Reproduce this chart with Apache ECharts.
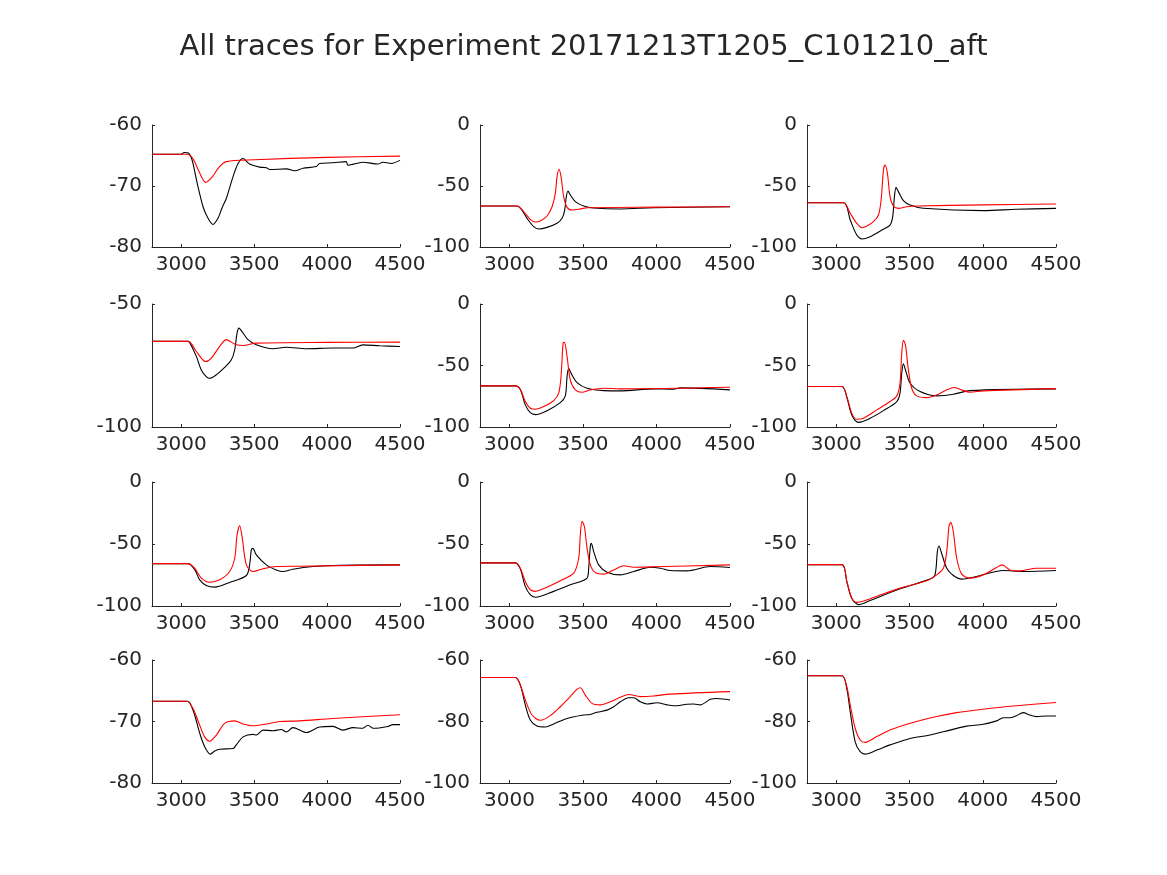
<!DOCTYPE html>
<html>
<head>
<meta charset="utf-8">
<script src="https://cdn.jsdelivr.net/npm/echarts@6/dist/echarts.min.js"></script>
<style>html,body{margin:0;padding:0;background:#fff}#c{width:1167px;height:875px}</style>
</head>
<body>
<div id="c"></div>
<script>
const titleText = 'All traces for Experiment 20171213T1205_C101210_aft';
const xTicks = [3000, 3500, 4000, 4500];
const yMins = [-80, -100, -100, -100, -100, -100, -100, -100, -100, -80, -100, -100];
const yMaxs = [-60, 0, 0, -50, 0, 0, 0, 0, 0, -60, -60, -60];
const yIntervals = [10, 50, 50, 50, 50, 50, 50, 50, 50, 10, 20, 20];

const t1Black = [[2800,-64.8],[3000,-64.8],[3020,-64.5],[3050,-64.6],[3070,-65.4],[3081,-66.3],[3115,-70.1],[3150,-73.4],[3184,-75.3],[3218,-76.3],[3252,-75.3],[3280,-73.6],[3310,-72.0],[3355,-68.5],[3390,-66.3],[3424,-65.5],[3469,-66.4],[3538,-66.9],[3584,-67.0],[3607,-67.3],[3721,-67.2],[3778,-67.5],[3835,-67.1],[3926,-66.8],[3949,-66.3],[4040,-66.2],[4131,-66.0],[4143,-66.6],[4245,-66.1],[4349,-66.4],[4383,-66.1],[4440,-66.3],[4500,-65.8]];
const t1Red = [[2800,-64.8],[3040,-64.8],[3080,-65.5],[3120,-67.5],[3168,-69.4],[3210,-68.6],[3260,-66.9],[3310,-66.0],[3500,-65.7],[4000,-65.3],[4500,-65.1]];

const t2Black = [[2800,-66.4],[3052,-66.4],[3080,-69.0],[3120,-76.5],[3165,-83.3],[3199,-85.2],[3256,-83.9],[3324,-80.6],[3358,-76.5],[3376,-69.7],[3387,-58.7],[3398,-54.1],[3414,-57.4],[3448,-62.8],[3505,-66.4],[3573,-68.0],[3754,-68.8],[3981,-67.8],[4500,-67.0]];
const t2Red = [[2800,-66.4],[3052,-66.4],[3097,-71.0],[3142,-77.3],[3176,-79.5],[3210,-78.7],[3256,-74.6],[3290,-67.0],[3312,-56.0],[3324,-42.3],[3337,-36.3],[3351,-42.3],[3369,-58.7],[3392,-67.5],[3426,-69.7],[3471,-69.1],[3528,-67.8],[4000,-67.3],[4500,-67.0]];

const t3Black = [[2800,-63.7],[3050,-63.7],[3095,-77.9],[3140,-90.2],[3175,-93.4],[3231,-91.5],[3311,-86.1],[3367,-82.0],[3385,-75.1],[3397,-58.7],[3408,-51.1],[3424,-54.6],[3458,-62.0],[3504,-65.6],[3594,-68.3],[4003,-70.2],[4230,-69.1],[4500,-68.3]];
const t3Red = [[2800,-63.7],[3050,-63.7],[3095,-72.4],[3140,-80.6],[3175,-84.2],[3209,-82.8],[3254,-79.2],[3288,-73.8],[3306,-61.5],[3322,-36.9],[3333,-32.8],[3349,-39.6],[3367,-58.7],[3390,-66.4],[3424,-68.3],[3481,-67.0],[3549,-66.4],[4000,-65.5],[4500,-64.8]];

const t4Black = [[2800,-65.2],[3047,-65.2],[3058,-65.6],[3104,-71.3],[3138,-76.8],[3172,-79.5],[3195,-80.2],[3241,-78.8],[3298,-75.8],[3344,-72.7],[3367,-68.6],[3383,-61.8],[3396,-59.8],[3424,-61.8],[3458,-64.5],[3515,-66.6],[3629,-68.2],[3721,-67.6],[3858,-68.2],[4040,-67.9],[4178,-67.9],[4245,-66.6],[4361,-67.0],[4500,-67.3]];
const t4Red = [[2800,-65.2],[3047,-65.2],[3104,-69.3],[3138,-72.0],[3168,-73.4],[3207,-72.0],[3264,-67.2],[3310,-64.5],[3344,-65.5],[3378,-66.6],[3424,-66.9],[3515,-65.9],[4000,-65.6],[4500,-65.5]];

const t5Black = [[2800,-66.6],[3040,-66.6],[3074,-69.5],[3108,-82.0],[3142,-88.3],[3176,-89.9],[3256,-86.7],[3346,-80.2],[3380,-74.7],[3392,-59.0],[3403,-52.2],[3419,-56.2],[3460,-63.9],[3528,-68.5],[3641,-70.4],[3754,-70.6],[3981,-69.0],[4117,-69.3],[4162,-68.2],[4500,-69.8]];
const t5Red = [[2800,-66.6],[3040,-66.6],[3074,-69.3],[3108,-79.3],[3142,-84.8],[3176,-85.6],[3233,-83.4],[3301,-78.5],[3335,-72.5],[3351,-59.0],[3365,-31.8],[3374,-31.2],[3392,-42.6],[3414,-61.7],[3448,-69.8],[3494,-71.7],[3550,-69.8],[3641,-68.5],[3754,-69.0],[4500,-67.7]];

const t6Black = [[2800,-67.1],[3038,-67.1],[3072,-76.0],[3106,-90.2],[3152,-96.2],[3231,-92.9],[3322,-86.7],[3413,-79.3],[3435,-72.5],[3447,-56.2],[3458,-48.6],[3472,-53.5],[3504,-64.4],[3572,-71.2],[3685,-74.7],[3799,-73.4],[3912,-70.4],[4500,-69.0]];
const t6Red = [[2800,-67.1],[3038,-67.1],[3072,-75.3],[3106,-88.9],[3140,-93.7],[3186,-92.9],[3277,-86.1],[3367,-79.3],[3413,-74.7],[3435,-64.4],[3447,-39.9],[3458,-29.6],[3472,-33.2],[3492,-53.5],[3515,-68.5],[3549,-74.7],[3617,-76.1],[3685,-73.9],[3754,-69.8],[3803,-67.9],[3844,-69.3],[3912,-71.7],[4003,-70.6],[4500,-68.8]];

const t7Black = [[2800,-65.8],[3047,-65.8],[3092,-70.5],[3127,-78.9],[3172,-83.4],[3230,-84.8],[3332,-81.0],[3447,-75.4],[3469,-66.8],[3481,-54.8],[3492,-53.5],[3515,-58.8],[3584,-66.8],[3652,-70.9],[3698,-72.2],[3766,-70.3],[3904,-68.2],[4087,-67.1],[4500,-66.8]];
const t7Red = [[2800,-65.8],[3047,-65.8],[3092,-69.5],[3138,-77.5],[3195,-80.8],[3264,-78.9],[3332,-72.2],[3367,-61.5],[3383,-42.8],[3401,-35.3],[3419,-45.5],[3447,-66.8],[3492,-72.2],[3561,-70.0],[3652,-68.2],[3812,-67.9],[4500,-66.8]];

const t8Black = [[2800,-65.2],[3040,-65.2],[3074,-70.0],[3108,-84.2],[3142,-90.9],[3176,-93.0],[3301,-88.2],[3414,-82.9],[3528,-77.5],[3539,-69.5],[3550,-52.1],[3557,-49.5],[3573,-56.1],[3607,-66.8],[3664,-72.7],[3754,-74.9],[3845,-72.2],[3958,-68.7],[4026,-69.5],[4094,-71.4],[4207,-71.7],[4366,-68.2],[4500,-69.0]];
const t8Red = [[2800,-65.2],[3040,-65.2],[3074,-69.5],[3108,-80.2],[3142,-86.9],[3176,-88.2],[3256,-84.8],[3346,-79.7],[3437,-73.5],[3471,-61.5],[3482,-42.8],[3494,-31.6],[3510,-36.1],[3528,-53.5],[3550,-66.8],[3584,-73.0],[3641,-74.3],[3709,-70.9],[3777,-67.6],[3845,-68.7],[3981,-68.4],[4500,-66.8]];

const t9Black = [[2800,-66.6],[3038,-66.6],[3072,-80.5],[3106,-94.0],[3152,-98.9],[3231,-95.5],[3436,-86.1],[3640,-78.3],[3674,-74.9],[3690,-56.1],[3701,-51.6],[3719,-57.5],[3754,-69.5],[3799,-75.4],[3856,-78.3],[3958,-76.2],[4140,-71.4],[4276,-72.2],[4500,-71.4]];
const t9Red = [[2800,-66.6],[3038,-66.6],[3072,-80.2],[3106,-93.6],[3140,-97.1],[3231,-94.1],[3436,-85.6],[3617,-79.7],[3685,-74.9],[3731,-69.5],[3754,-56.1],[3769,-36.1],[3781,-32.6],[3799,-40.1],[3822,-61.5],[3856,-74.3],[3912,-77.5],[4003,-74.9],[4094,-69.0],[4132,-66.8],[4185,-70.9],[4253,-71.7],[4366,-69.5],[4500,-69.5]];

const t10Black = [[2800,-66.7],[3040,-66.7],[3058,-66.9],[3092,-68.9],[3127,-71.9],[3161,-74.1],[3200,-75.3],[3230,-74.8],[3264,-74.5],[3355,-74.4],[3378,-73.8],[3424,-72.5],[3492,-72.1],[3515,-72.2],[3561,-71.4],[3629,-71.5],[3686,-71.3],[3721,-71.7],[3766,-71.0],[3858,-71.8],[3949,-70.9],[4040,-70.8],[4108,-71.4],[4178,-71.0],[4245,-71.1],[4280,-70.6],[4315,-71.1],[4418,-70.8],[4452,-70.5],[4500,-70.5]];
const t10Red = [[2800,-66.7],[3040,-66.7],[3081,-67.9],[3127,-70.6],[3161,-72.5],[3195,-73.2],[3241,-72.2],[3298,-70.3],[3367,-69.9],[3424,-70.4],[3492,-70.7],[3584,-70.4],[3675,-70.0],[3812,-69.9],[4040,-69.5],[4500,-68.9]];

const t11Black = [[2800,-65.7],[3040,-65.7],[3074,-68.1],[3108,-74.6],[3142,-79.5],[3188,-81.5],[3244,-81.8],[3301,-80.8],[3392,-79.0],[3505,-77.9],[3550,-77.7],[3596,-77.0],[3664,-76.3],[3709,-75.2],[3754,-73.6],[3811,-72.3],[3845,-72.3],[3890,-73.6],[3936,-74.3],[4004,-73.9],[4072,-74.6],[4117,-74.9],[4208,-74.4],[4253,-74.3],[4298,-74.6],[4366,-72.8],[4412,-72.5],[4500,-73.0]];
const t11Red = [[2800,-65.7],[3040,-65.7],[3074,-68.1],[3108,-73.0],[3154,-77.9],[3210,-79.6],[3278,-78.1],[3346,-75.2],[3414,-71.9],[3460,-69.5],[3482,-69.0],[3516,-71.4],[3562,-74.1],[3618,-74.6],[3686,-73.6],[3754,-72.1],[3811,-71.2],[3890,-71.9],[3981,-71.7],[4094,-71.1],[4500,-70.3]];

const t12Black = [[2800,-65.1],[3038,-65.1],[3072,-69.5],[3095,-76.8],[3129,-86.6],[3163,-89.8],[3197,-90.6],[3277,-89.3],[3367,-87.6],[3504,-85.5],[3640,-84.4],[3776,-82.8],[3889,-81.5],[4003,-80.9],[4094,-79.8],[4140,-78.8],[4185,-78.8],[4230,-78.1],[4276,-77.1],[4321,-77.9],[4366,-78.4],[4434,-78.2],[4500,-78.2]];
const t12Red = [[2800,-65.1],[3038,-65.1],[3072,-68.7],[3095,-74.6],[3129,-82.2],[3163,-86.0],[3197,-86.8],[3277,-84.9],[3367,-82.8],[3504,-80.6],[3685,-78.4],[3821,-77.1],[4003,-76.0],[4230,-74.9],[4500,-73.8]];

const blackTraces = [t1Black,t2Black,t3Black,t4Black,t5Black,t6Black,t7Black,t8Black,t9Black,t10Black,t11Black,t12Black];
const redTraces = [t1Red,t2Red,t3Red,t4Red,t5Red,t6Red,t7Red,t8Red,t9Red,t10Red,t11Red,t12Red];

const colLeft = [152, 480, 807];
const colWidth = [248, 250, 249];
const rowTop = [125, 304, 482, 660];
const rowHeight = [122, 123, 124, 123];
const ink = '#262626';
const fontFamily = 'DejaVu Sans';

const grids = [], xAxes = [], yAxes = [], series = [];
for (let i = 0; i < 12; i++) {
  const r = Math.floor(i / 3), c = i % 3;
  grids.push({left: colLeft[c], top: rowTop[r], width: colWidth[c], height: rowHeight[r]});
  xAxes.push({
    type: 'value', gridIndex: i, min: 2800, max: 4500,
    axisLine: {show: true, onZero: false, lineStyle: {color: ink, width: 1}},
    axisTick: {show: true, inside: true, length: 3, customValues: xTicks, lineStyle: {color: ink}},
    axisLabel: {show: true, customValues: xTicks, color: ink, fontSize: 20, fontFamily: fontFamily, margin: 8, hideOverlap: false,
      formatter: function (v) { return String(v); }},
    splitLine: {show: false}
  });
  yAxes.push({
    type: 'value', gridIndex: i, min: yMins[i], max: yMaxs[i], interval: yIntervals[i],
    axisLine: {show: true, onZero: false, lineStyle: {color: ink, width: 1}},
    axisTick: {show: true, inside: true, length: 3, lineStyle: {color: ink}},
    axisLabel: {show: true, color: ink, fontSize: 20, fontFamily: fontFamily, margin: 10,
      formatter: function (v) { return String(v); }},
    splitLine: {show: false}
  });
  series.push({
    type: 'line', xAxisIndex: i, yAxisIndex: i, data: blackTraces[i],
    showSymbol: false, symbol: 'none', animation: false, silent: true,
    smooth: 0.3,
    lineStyle: {color: '#000000', width: 1.1}
  });
  series.push({
    type: 'line', xAxisIndex: i, yAxisIndex: i, data: redTraces[i],
    showSymbol: false, symbol: 'none', animation: false, silent: true,
    smooth: 0.3,
    lineStyle: {color: '#ff0000', width: 1.1}
  });
}

const chart = echarts.init(document.getElementById('c'), null, {renderer: 'canvas'});
chart.setOption({
  backgroundColor: '#ffffff',
  animation: false,
  title: {text: titleText, left: 'center', top: 28, textStyle: {color: ink, fontSize: 29, fontWeight: 'normal', fontFamily: fontFamily}},
  grid: grids, xAxis: xAxes, yAxis: yAxes, series: series
});
</script>
</body>
</html>
